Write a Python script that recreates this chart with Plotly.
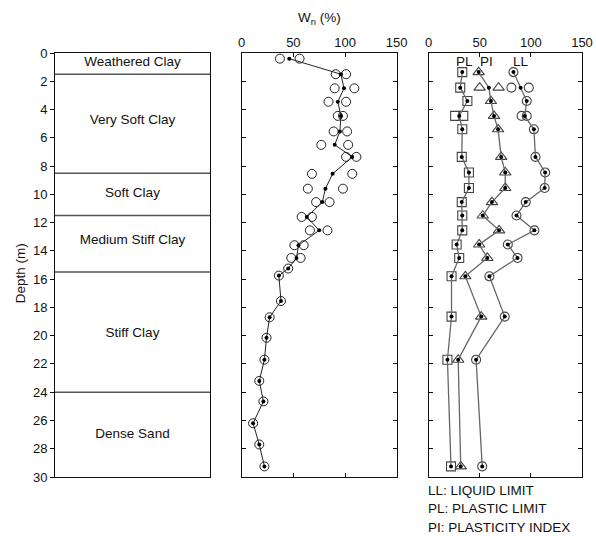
import plotly.graph_objects as go

# ---------------- data ----------------
layer_names = ["Weathered Clay", "Very Soft Clay", "Soft Clay",
               "Medium Stiff Clay", "Stiff Clay", "Dense Sand"]
layer_label_depth = [0.7, 4.8, 9.95, 13.3, 19.85, 27.0]
layer_bounds = [1.5, 8.5, 11.5, 15.5, 24.0]

# natural water content
wn_depth = [0.4, 1.5, 2.5, 3.45, 4.45, 5.55, 6.5, 7.35, 8.55, 9.6, 10.55, 11.6,
            12.55, 13.6, 14.5, 15.25, 15.75, 17.55, 18.7, 20.15, 21.7, 23.2,
            24.65, 26.2, 27.7, 29.25]
wn_mean = [46, 96, 99, 93, 96, 95, 90, 107, 88, 81, 78, 63, 75, 55, 53,
           45, 36, 38, 27, 24, 22, 17, 21, 11, 17, 22]
wn_s1 = [37, 91, 90, 84, 93, 89, 77, 101, 68, 64, 72, 58, 66, 51, 48]
wn_s2 = [56, 101, 109, 101, 98, 102, 103, 111, 107, 98, 85, 68, 83, 60, 57]

# Atterberg limits
al_depth = [1.35, 2.45, 3.4, 4.45, 5.4, 7.35, 8.45, 9.55, 10.55, 11.5, 12.55,
            13.55, 14.5, 15.8, 18.65, 21.7, 29.25]
PL = [33, 31, 38, 30, 33, 32.5, 39.5, 39.5, 32.5, 33, 33, 27.5, 30, 22.5, 22.5, 18.5, 22]
PI = [49, 59, 61, 64, 68, 71, 75, 75, 62, 53, 69, 49.5, 57.5, 36, 51.5, 29, 31.5]
LL = [83, 90, 96, 94, 103, 104.5, 114, 113.5, 95, 86, 103.5, 77.5, 87, 59.5, 74.5, 46.5, 52.5]
# individual samples where two tests were made
pl_split_depth = [4.45, 4.45]
pl_split = [26, 34]
pi_split_depth = [2.45, 2.45]
pi_split = [50, 68.5]
ll_split_depth = [2.45, 2.45, 4.45, 4.45]
ll_split = [81, 98, 91, 96]

y_ticks = list(range(0, 31, 2))
x_ticks = [0, 50, 100, 150]

# ---------------- figure ----------------
FONT = "Arial, Liberation Sans, sans-serif"
fig = go.Figure()

# left panel: soil profile
for b in layer_bounds:
    fig.add_trace(go.Scatter(x=[0, 1], y=[b, b], mode="lines",
                             line=dict(color="#555555", width=1.5),
                             xaxis="x", yaxis="y", showlegend=False, hoverinfo="skip"))
fig.add_trace(go.Scatter(x=[0.5] * len(layer_names), y=layer_label_depth,
                         text=layer_names, mode="text",
                         textfont=dict(family=FONT, size=13.5, color="#111111"),
                         xaxis="x", yaxis="y", showlegend=False))

# middle panel: water content
n2 = len(wn_s1)
fig.add_trace(go.Scatter(x=wn_s1 + wn_s2 + wn_mean[n2:],
                         y=wn_depth[:n2] + wn_depth[:n2] + wn_depth[n2:],
                         mode="markers",
                         marker=dict(symbol="circle-open", size=9, color="#222222",
                                     line=dict(color="#222222", width=1)),
                         xaxis="x2", yaxis="y2", showlegend=False))
fig.add_trace(go.Scatter(x=wn_mean, y=wn_depth, mode="lines+markers",
                         line=dict(color="#222222", width=1),
                         marker=dict(symbol="circle", size=4, color="#000000"),
                         xaxis="x2", yaxis="y2", showlegend=False))


def excl(vals, depths, skip):
    xs, ys = [], []
    for v, d in zip(vals, depths):
        if d not in skip:
            xs.append(v)
            ys.append(d)
    return xs, ys


series = [
    (PL, "square-open", 9, pl_split, pl_split_depth),
    (PI, "triangle-up-open", 10, pi_split, pi_split_depth),
    (LL, "circle-open", 9, ll_split, ll_split_depth),
]
for vals, sym, sz, sv, sd in series:
    mx, my = excl(vals, al_depth, set(sd))
    fig.add_trace(go.Scatter(x=mx + sv, y=my + sd, mode="markers",
                             marker=dict(symbol=sym, size=sz, color="#444444",
                                         line=dict(color="#444444", width=1.1)),
                             xaxis="x3", yaxis="y3", showlegend=False))
    fig.add_trace(go.Scatter(x=vals, y=al_depth, mode="lines+markers",
                             line=dict(color="#666666", width=1.3),
                             marker=dict(symbol="circle", size=4, color="#000000"),
                             xaxis="x3", yaxis="y3", showlegend=False))

# ---------------- layout ----------------
W, H = 596, 536
PX_L, PX_R, PX_T, PX_B = 55, 582, 52.7, 476.7   # plot area in window pixels
L, R, T, B = PX_L, W - PX_R, PX_T, H - PX_B
pw = PX_R - PX_L
ph = PX_B - PX_T
dom1 = [0, (210 - PX_L) / pw]
dom2 = [(241.7 - PX_L) / pw, (396.7 - PX_L) / pw]
dom3 = [(428.5 - PX_L) / pw, 1]


def py(ypx):
    return 1 - (ypx - PX_T) / ph


def pxx(xpx):
    return (xpx - PX_L) / pw


tickfont = dict(family=FONT, size=13, color="#111111")
yrange = [30, 0]

common_y = dict(range=yrange, tickvals=y_ticks, showline=True, linecolor="#111111",
                linewidth=1, showgrid=False, zeroline=False, ticklen=4,
                tickcolor="#111111", tickfont=tickfont, automargin=False)
common_x = dict(range=[0, 150], tickvals=x_ticks, side="top",
                ticks="inside", mirror="ticks", ticklen=4, tickcolor="#111111",
                showline=True, linecolor="#111111", linewidth=1, showgrid=False,
                zeroline=False, tickfont=tickfont, automargin=False)

fig.update_layout(
    width=W, height=H, margin=dict(l=L, r=R, t=T, b=B, autoexpand=False),
    paper_bgcolor="white", plot_bgcolor="white",
    font=dict(family=FONT, color="#111111"),
    xaxis=dict(domain=dom1, range=[0, 1], showticklabels=False, ticks="",
               showline=True, mirror=True, linecolor="#111111", linewidth=1,
               showgrid=False, zeroline=False, anchor="y", automargin=False),
    yaxis=dict(**common_y, ticks="outside", mirror=True, anchor="x"),
    yaxis4=dict(range=yrange, tickvals=y_ticks, overlaying="y", side="right",
                anchor="x", ticks="inside", ticklen=4, tickcolor="#111111",
                showticklabels=False, showgrid=False, zeroline=False, showline=False,
                automargin=False),
    xaxis2=dict(**common_x, domain=dom2, anchor="y2"),
    yaxis2=dict(**common_y, ticks="inside", mirror="ticks", showticklabels=False,
                anchor="x2", matches="y"),
    xaxis3=dict(**common_x, domain=dom3, anchor="y3"),
    yaxis3=dict(**common_y, ticks="inside", mirror="ticks", showticklabels=False,
                anchor="x3", matches="y"),
)

ann = []
ann.append(dict(text="W<sub>n</sub> (%)", xref="x2 domain", yref="paper",
                x=0.5, y=py(18), xanchor="center", yanchor="middle",
                showarrow=False, font=dict(family=FONT, size=13.5)))
ann.append(dict(text="Depth (m)", xref="paper", yref="paper",
                x=pxx(20), y=py(273), textangle=-90,
                xanchor="center", yanchor="middle", showarrow=False,
                font=dict(family=FONT, size=13.5)))
for lab, xv in zip(["PL", "PI", "LL"], [35, 57, 90]):
    ann.append(dict(text=lab, xref="x3", yref="y3", x=xv, y=0.6,
                    xanchor="center", yanchor="middle", showarrow=False,
                    font=dict(family=FONT, size=13.5)))
legend_lines = ["LL: LIQUID LIMIT", "PL: PLASTIC LIMIT", "PI: PLASTICITY INDEX"]
for i, t in enumerate(legend_lines):
    ann.append(dict(text=t, xref="paper", yref="paper", x=dom3[0] - 0.004,
                    y=py(490 + i * 18.5), xanchor="left", yanchor="middle",
                    showarrow=False, font=dict(family=FONT, size=13.5)))
fig.update_layout(annotations=ann)

fig.write_html("out.html",
               config={"displayModeBar": False},
               post_script="document.body.style.margin='0';"
                           "document.body.style.overflow='hidden';")
